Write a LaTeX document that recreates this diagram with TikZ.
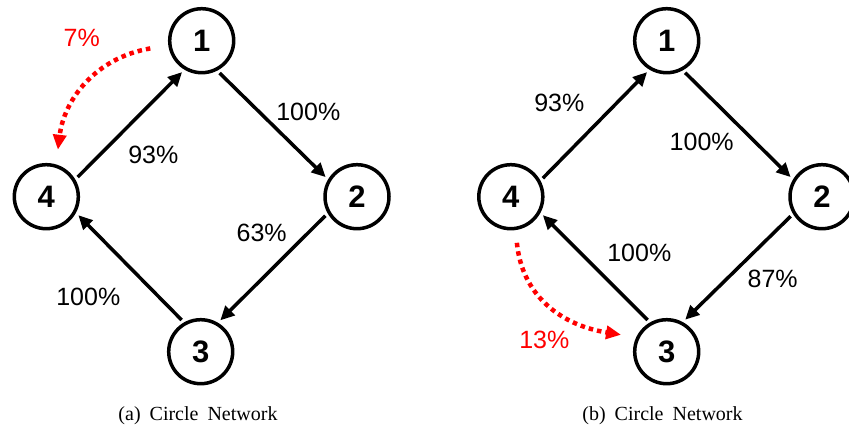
\documentclass[tikz,border=0pt]{standalone}
\usepackage{fontspec}
\setmainfont{Liberation Serif}
\newfontfamily\lsans{Liberation Sans}
\usetikzlibrary{arrows.meta}
\begin{document}
\begin{tikzpicture}[x=1pt,y=-1pt,
  nd/.style={circle, draw, line width=3.5pt, minimum size=64pt, inner sep=0pt, outer sep=5pt,
    font=\lsans\bfseries\fontsize{31}{34}\selectfont},
  arr/.style={line width=3.5pt, -{Triangle[length=14pt,width=13pt]}},
  redarr/.style={red, line width=4.5pt, dash pattern=on 4.5pt off 4pt, -{Triangle[length=15pt,width=13pt]}},
  lbl/.style={inner sep=0pt, font=\lsans\fontsize{25}{30}\selectfont},
  captext/.style={inner sep=0pt, anchor=base, font=\fontsize{20}{24}\selectfont}]
\useasboundingbox (0,0) rectangle (849,426);
% ---- (a) ----
\node[nd] (a1) at (201.7,40.7) {1\hspace{13pt}};
\node[nd] (a2) at (357,196.7) {2\hspace{13pt}};
\node[nd] (a3) at (200.7,351.7) {3\hspace{13pt}};
\node[nd] (a4) at (46.3,196.7) {4\hspace{13pt}};
\draw[arr] (a4.32) -- (a1.238);
\draw[arr] (a1.299) -- (a2.148);
\draw[arr] (a2.211) -- (a3.58);
\draw[arr] (a3.121) -- (a4.330);
\draw[redarr, shorten <=15pt, shorten >=11.5pt] (a1.188) .. controls (95,58) and (64,100) .. (a4.74);
\node[lbl, red] (la0) at (81.7,38.3) {7\%};
\node[lbl] (la1) at (308.3,111.7) {100\%};
\node[lbl] (la2) at (153.3,155) {93\%};
\node[lbl] (la3) at (261.7,233.3) {63\%};
\node[lbl] (la4) at (88.3,297.3) {100\%};
\node[captext] (capa) at (198,420.5) {(a)\hspace{9pt}Circle\hspace{9pt}Network};
% ---- (b) ----
\node[nd] (b1) at (666.7,40.7) {1\hspace{13pt}};
\node[nd] (b2) at (822,196.7) {2\hspace{13pt}};
\node[nd] (b3) at (666.7,351.7) {3\hspace{13pt}};
\node[nd] (b4) at (510.8,196.7) {4\hspace{13pt}};
\draw[arr] (b4.30) -- (b1.238);
\draw[arr] (b1.300) -- (b2.148);
\draw[arr] (b2.212) -- (b3.60);
\draw[arr] (b3.121) -- (b4.330);
\draw[redarr, shorten <=9.5pt, shorten >=12pt] (b4.278) .. controls (522,295) and (560,325) .. (b3.156);
\node[lbl] (lb1) at (559.3,103.3) {93\%};
\node[lbl] (lb2) at (701.7,141.7) {100\%};
\node[lbl] (lb3) at (639.3,253.3) {100\%};
\node[lbl] (lb4) at (772.7,279.3) {87\%};
\node[lbl, red] (lb5) at (544.3,340) {13\%};
\node[captext] (capb) at (662.5,420.5) {(b)\hspace{9pt}Circle\hspace{9pt}Network};
\end{tikzpicture}
\end{document}
